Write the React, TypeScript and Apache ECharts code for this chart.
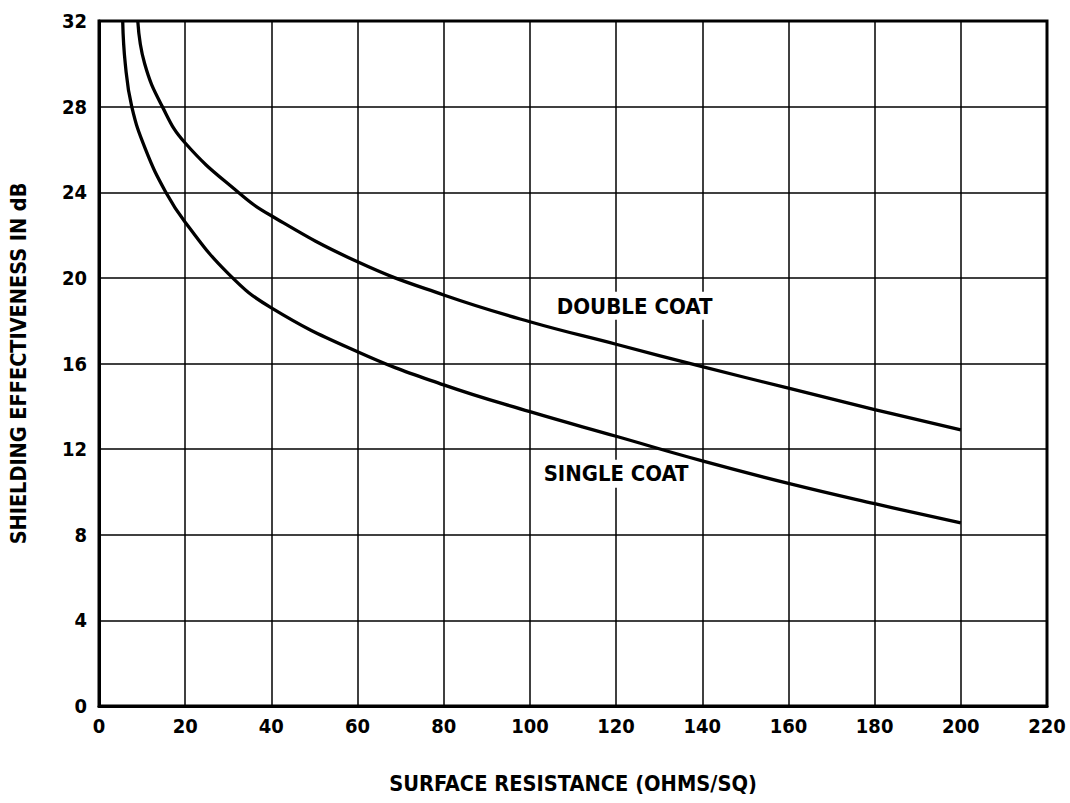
import React, { useEffect, useRef } from "react";
import * as echarts from "echarts";

const xTicks = [0, 20, 40, 60, 80, 100, 120, 140, 160, 180, 200, 220];
const yTicks = [0, 4, 8, 12, 16, 20, 24, 28, 32];

const singleCoat: [number, number][] = [
  [5.5, 32], [6.1, 30], [7.6, 28], [10.8, 26], [15.5, 24], [20, 22.6],
  [30, 20.2], [40, 18.6], [60, 16.55], [80, 15.0], [100, 13.75],
  [120, 12.6], [140, 11.45], [160, 10.4], [180, 9.45], [200, 8.55],
];
const doubleCoat: [number, number][] = [
  [9.0, 32], [10.6, 30], [14.7, 28], [20, 26.3], [32.3, 24], [40, 22.9], [60, 20.75],
  [80, 19.2], [100, 17.95], [120, 16.9], [140, 15.85],
  [160, 14.85], [180, 13.85], [200, 12.9],
];
const labelNames = ["DOUBLE COAT", "SINGLE COAT"];
const labelCoords: [number, number][] = [[124.3, 18.7], [120, 10.85]];

const X_TITLE = "SURFACE RESISTANCE (OHMS/SQ)";
const Y_TITLE = "SHIELDING EFFECTIVENESS IN dB";

const FONT = "'Liberation Sans Narrow', 'DejaVu Sans Condensed', 'Liberation Sans', sans-serif";

function fitSize(text: string, target: number, maxSize: number): number {
  const c = document.createElement("canvas").getContext("2d");
  if (!c) return maxSize;
  c.font = `bold 100px ${FONT}`;
  const w = c.measureText(text).width;
  if (!w) return maxSize;
  return Math.min(maxSize, (target / w) * 100);
}

export default function App() {
  const ref = useRef<HTMLDivElement>(null);
  useEffect(() => {
    if (!ref.current) return;
    const chart = echarts.init(ref.current, undefined, { renderer: "svg" });
    const xTitleSize = fitSize(X_TITLE, 368, 23);
    const yTitleSize = fitSize(Y_TITLE, 362, 23);
    const labelTargets = [156, 145];
    const tickSize = 20;
    chart.setOption({
      animation: false,
      backgroundColor: "#fff",
      grid: {
        left: 99,
        top: 21,
        right: 23,
        bottom: 97,
        show: true,
        borderColor: "#000",
        borderWidth: 3,
        backgroundColor: "transparent",
      },
      xAxis: {
        type: "value",
        min: 0,
        max: 220,
        interval: 20,
        name: X_TITLE,
        nameLocation: "middle",
        nameGap: 66,
        nameTextStyle: { fontFamily: FONT, fontWeight: "bold", fontSize: xTitleSize, color: "#000" },
        axisLine: { show: true, lineStyle: { color: "#000", width: 3 } },
        axisTick: { show: false },
        axisLabel: {
          fontFamily: FONT, fontWeight: "bold", fontSize: tickSize, color: "#000", margin: 10,
          formatter: (v: number) => (xTicks.includes(v) ? String(v) : ""),
        },
        splitLine: { show: true, lineStyle: { color: "#000", width: 1.5 } },
      },
      yAxis: {
        type: "value",
        min: 0,
        max: 32,
        interval: 4,
        name: Y_TITLE,
        nameLocation: "middle",
        nameGap: 70,
        nameRotate: 90,
        nameTextStyle: { fontFamily: FONT, fontWeight: "bold", fontSize: yTitleSize, color: "#000" },
        axisLine: { show: true, lineStyle: { color: "#000", width: 3 } },
        axisTick: { show: false },
        axisLabel: {
          fontFamily: FONT, fontWeight: "bold", fontSize: tickSize, color: "#000", margin: 12,
          formatter: (v: number) => (yTicks.includes(v) ? String(v) : ""),
        },
        splitLine: { show: true, lineStyle: { color: "#000", width: 1.5 } },
      },
      series: [
        {
          name: "labels",
          type: "scatter",
          z: 2,
          symbolSize: 1,
          itemStyle: { color: "#fff", opacity: 1 },
          emphasis: { disabled: true },
          data: labelNames.map((name, i) => ({
            name,
            value: labelCoords[i],
            label: {
              show: true,
              position: "inside",
              formatter: name,
              color: "#000",
              opacity: 1,
              fontFamily: FONT,
              fontWeight: "bold",
              fontSize: fitSize(name, labelTargets[i], 23),
              backgroundColor: "#fff",
              padding: [4, 3, 2, 3],
            },
          })),
        },
        {
          name: "SINGLE COAT",
          type: "line",
          data: singleCoat,
          smooth: 0.45,
          showSymbol: false,
          lineStyle: { color: "#000", width: 3.3 },
          z: 3,
        },
        {
          name: "DOUBLE COAT",
          type: "line",
          data: doubleCoat,
          smooth: 0.45,
          showSymbol: false,
          lineStyle: { color: "#000", width: 3.3 },
          z: 3,
        },
      ],
    });
    return () => chart.dispose();
  }, []);
  return (
    <div
      ref={ref}
      style={{ width: 1070, height: 803, position: "absolute", left: 0, top: 0, background: "#fff" }}
    />
  );
}
